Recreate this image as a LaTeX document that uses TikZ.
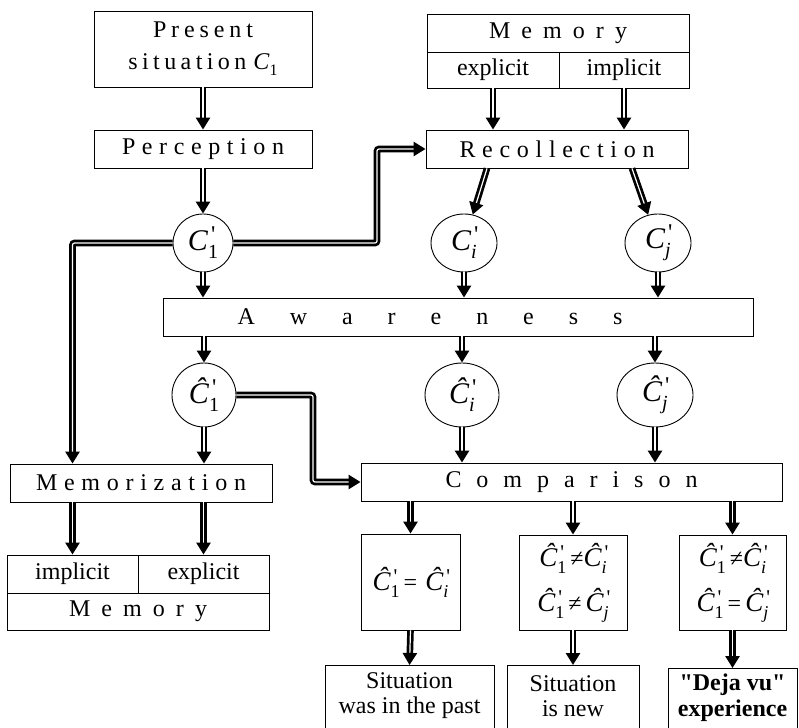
\documentclass[tikz,border=0pt]{standalone}
\usepackage{fontspec}
\setmainfont{Liberation Serif}
\usetikzlibrary{arrows.meta,shapes.geometric}
\newcommand{\Cbig}[2]{{\fontsize{30}{30}\selectfont\itshape #1}\rlap{\kern3pt\raisebox{8pt}{\fontsize{24}{24}\selectfont\textquotesingle}}\raisebox{-8pt}{\fontsize{20}{20}\selectfont #2}}
\newcommand{\Cmid}[2]{{\fontsize{27}{27}\selectfont\itshape #1}\rlap{\kern3pt\raisebox{7pt}{\fontsize{21}{21}\selectfont\textquotesingle}}\raisebox{-7pt}{\fontsize{18}{18}\selectfont #2}}
\begin{document}
\begin{tikzpicture}[x=1pt,y=-1pt,
  box/.style={draw, line width=0.9pt, inner sep=0pt, font=\fontsize{24}{28}\selectfont},
  circ/.style={draw, ellipse, line width=0.9pt, inner sep=0pt},
  dbl/.style={double=white, double distance=1.2pt, line width=2.7pt, rounded corners=2pt, -{Triangle[length=12pt,width=14pt]}},
  txt/.style={inner sep=0pt, align=center, font=\fontsize{24}{25}\selectfont}]
\clip (0,0) rectangle (799,727);
\fill[white] (0,0) rectangle (799,727);
% top left
\node[box, minimum width=218, minimum height=76, align=center, font=\fontsize{24}{32}\selectfont] (pres) at (203,49)
  {\makebox[100pt][s]{P r e s e n t}\\\makebox[118pt][s]{s i t u a t i o n}\hspace{7pt}\textit{C}\raisebox{-6pt}{\fontsize{16}{16}\selectfont 1}};
\node[box, minimum width=218, minimum height=38] (perc) at (203,149) {\makebox[162pt][s]{P e r c e p t i o n}};
% memory top
\node[box, minimum width=262, minimum height=38] (memT) at (558,33) {\makebox[138pt][s]{M e m o r y}};
\node[box, minimum width=132, minimum height=36] (memE) at (493,70) {explicit};
\node[box, minimum width=130, minimum height=36] (memI) at (624,70) {implicit};
\node[box, minimum width=262, minimum height=38] (rec) at (557,149) {\makebox[195pt][s]{R e c o l l e c t i o n}};
% circles
\node[circ, minimum width=60, minimum height=58] (c1) at (203,243) {\Cbig{C}{1}};
\node[circ, minimum width=66, minimum height=58] (ci) at (464,243) {\Cbig{C}{\textit{i}}};
\node[circ, minimum width=66, minimum height=58] (cj) at (658,243) {\Cbig{C}{\textit{j}}};
\node[box, minimum width=590, minimum height=38] (aware) at (458,317) {\makebox[385pt][s]{A w a r e n e s s}\hspace*{56pt}};
\node[circ, minimum width=64, minimum height=64] (h1) at (204,395) {\Cbig{\^{C}}{1}};
\node[circ, minimum width=74, minimum height=64] (hi) at (462,395) {\Cbig{\^{C}}{\textit{i}}};
\node[circ, minimum width=76, minimum height=64] (hj) at (655,395) {\Cbig{\^{C}}{\textit{j}}};
% memorization
\node[box, minimum width=262, minimum height=38] (memz) at (141,483) {\makebox[210pt][s]{M e m o r i z a t i o n}};
\node[box, minimum width=131, minimum height=38] (memI2) at (72.5,574) {implicit};
\node[box, minimum width=131, minimum height=38] (memE2) at (203.5,574) {explicit};
\node[box, minimum width=262, minimum height=37] (memB) at (138,611.5) {\makebox[138pt][s]{M e m o r y}};
% comparison
\node[box, minimum width=421, minimum height=38] (comp) at (571.5,482) {\makebox[252pt][s]{C o m p a r i s o n}};
\node[box, minimum width=99, minimum height=96] (r1) at (410.5,582) {\Cmid{\^{C}}{1}\,=\,\,\Cmid{\^{C}}{\textit{i}}};
\node[box, minimum width=108, minimum height=95, align=center, font=\fontsize{24}{45}\selectfont] (r2) at (573,582.5)
  {\Cmid{\^{C}}{1}\,≠\Cmid{\^{C}}{\textit{i}}\\\Cmid{\^{C}}{1}\,≠\,\Cmid{\^{C}}{\textit{j}}};
\node[box, minimum width=107, minimum height=95, align=center, font=\fontsize{24}{45}\selectfont] (r3) at (732.5,582.5)
  {\Cmid{\^{C}}{1}\,≠\Cmid{\^{C}}{\textit{i}}\\\Cmid{\^{C}}{1}\,=\,\Cmid{\^{C}}{\textit{j}}};
% bottom
\node[box, minimum width=169, minimum height=90, anchor=north] (b1) at (409.5,665) {};
\node[txt] (b1t) at (409.5,696) {Situation\\was in the past};
\node[box, minimum width=132, minimum height=90, anchor=north] (b2) at (573,665) {};
\node[txt] (b2t) at (573,696) {Situation\\is new};
\node[box, minimum width=129, minimum height=90, anchor=north] (b3) at (732.5,668) {};
\node[txt, font=\fontsize{24}{26}\selectfont\bfseries] (b3t) at (732.5,698) {\textquotedbl Deja vu\textquotedbl\\experience};
% arrows
\draw[dbl] (pres.south) -- (perc.north);
\draw[dbl] (perc.south) -- (c1.north);
\draw[dbl] (c1.west) -| (memI2.center |- memz.north);
\coordinate (k1) at (377,149);
\draw[dbl] (c1.east) -| (k1) -- (rec.west);
\draw[dbl] (memE.south) -- (memE.south |- rec.north);
\draw[dbl] (memI.south) -- (memI.south |- rec.north);
\draw[dbl] ([xshift=-70pt]rec.south) -- (ci);
\draw[dbl] ([xshift=75pt]rec.south) -- (cj);
\draw[dbl] (c1.south) -- (c1.south |- aware.north);
\draw[dbl] (ci.south) -- (ci.south |- aware.north);
\draw[dbl] (cj.south) -- (cj.south |- aware.north);
\draw[dbl] (h1.north |- aware.south) -- (h1.north);
\draw[dbl] (hi.north |- aware.south) -- (hi.north);
\draw[dbl] (hj.north |- aware.south) -- (hj.north);
\draw[dbl] (h1.south) -- (h1.south |- memz.north);
\coordinate (k2) at (313,482);
\draw[dbl] (h1.east) -| (k2) -- (comp.west);
\draw[dbl] (hi.south) -- (hi.south |- comp.north);
\draw[dbl] (hj.south) -- (hj.south |- comp.north);
\draw[dbl] (memI2.north |- memz.south) -- (memI2.north);
\draw[dbl] (memE2.north |- memz.south) -- (memE2.north);
\draw[dbl] (r1.north |- comp.south) -- (r1.north);
\draw[dbl] (r2.north |- comp.south) -- (r2.north);
\draw[dbl] (r3.north |- comp.south) -- (r3.north);
\draw[dbl] (r1.south) -- (b1.north);
\draw[dbl] (r2.south) -- (b2.north);
\draw[dbl] (r3.south) -- (b3.north);
\end{tikzpicture}
\end{document}
